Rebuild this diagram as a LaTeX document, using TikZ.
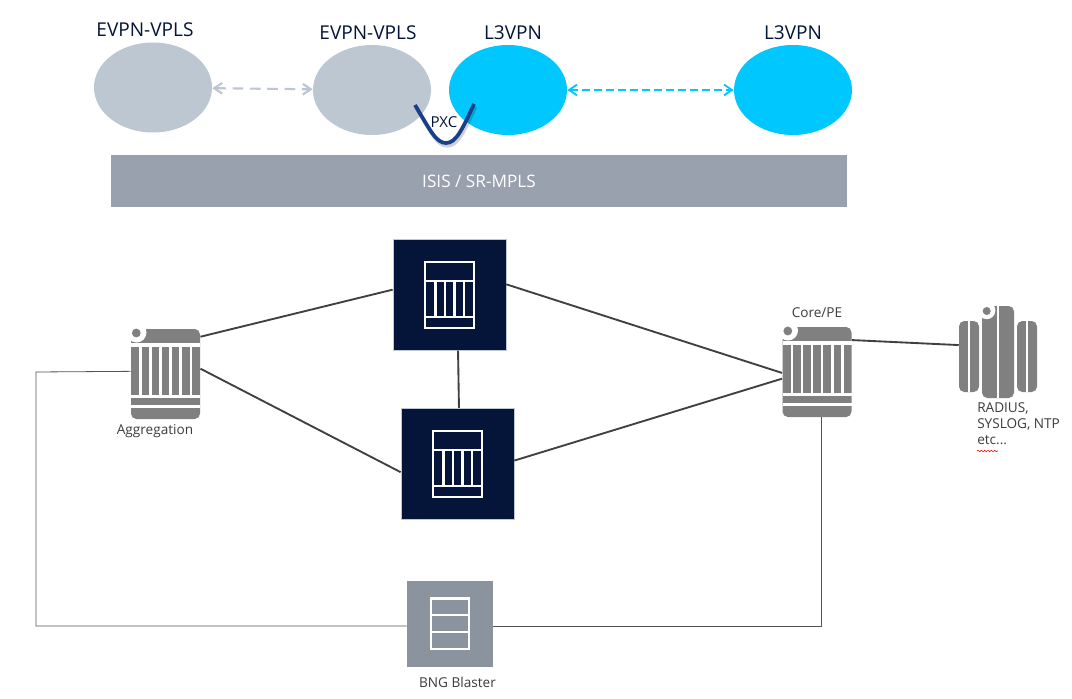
\documentclass[tikz,border=0pt]{standalone}
\usepackage{xcolor}
\usepackage{fontspec}
\setmainfont{Open Sans}
\usetikzlibrary{shapes.geometric, arrows.meta, decorations.pathmorphing}
\definecolor{navybox}{HTML}{041539}
\definecolor{paleblue}{HTML}{BDC7D2}
\definecolor{brightblue}{HTML}{00C8FF}
\definecolor{bargray}{HTML}{98A1AD}
\definecolor{iconGray}{HTML}{808080}
\definecolor{blastergray}{HTML}{8A939E}
\definecolor{linkgray}{HTML}{404040}
\definecolor{pxcblue}{HTML}{173F8A}
\definecolor{labelgray}{HTML}{3C3C3C}

\tikzset{
  x=0.75pt, y=-0.75pt,
  overlay ellipse/.style={ellipse, inner sep=0pt, minimum width=88.5pt, minimum height=67.5pt},
  toplabel/.style={text=navybox, font=\fontsize{14.3}{16}\selectfont},
  smalllabel/.style={text=labelgray, font=\fontsize{10.2}{12}\selectfont},
  navysquare/.style={fill=navybox, draw=paleblue, line width=.3pt, inner sep=0pt, minimum width=85pt, minimum height=83pt},
  hotspot/.style={inner sep=0pt, minimum width=52pt, minimum height=67.5pt},
  link/.style={linkgray, line width=1.4pt},
  thinlink/.style={linkgray!90, line width=.6pt},
  routericon/.pic={
    \fill[iconGray, rounded corners=4pt] (0,0) rectangle (69,90);
    \fill[white] (0,14.3) rectangle (69,17.7);
    \fill[white] (0,66) rectangle (69,69.3);
    \fill[white] (0,76) rectangle (69,78.7);
    \foreach \gx in {9.4,19.5,29.5,39.6,49.7,59.8}
      \fill[white] (\gx-1.3,17) rectangle (\gx+1.3,66.5);
    \fill[white] (5.5,3.5) circle[radius=7.5pt];
    \fill[iconGray] (5.3,4) circle[radius=3.3pt];
  },
  caseicon/.pic={
    % outline, top panel and bottom panel
    \draw[white, line width=1.9pt] (0,0) rectangle (49,66);
    \draw[white, line width=1.9pt] (0,19) -- (49,19);
    \draw[white, line width=1.9pt] (0,55) -- (49,55);
    \foreach \gx in {10.5,20,29.5,39}
      \draw[white, line width=1.9pt] (\gx,19) -- (\gx,55);
  },
}

\begin{document}
\begin{tikzpicture}
  \useasboundingbox[fill=white] (0,0) rectangle (1072,699);

  % service layer
  \node[overlay ellipse, fill=paleblue] (evpnleft) at (153,87.5) {};
  \node[overlay ellipse, fill=paleblue] (evpnright) at (372,90) {};
  \node[overlay ellipse, fill=brightblue] (l3left) at (508,90) {};
  \node[overlay ellipse, fill=brightblue] (l3right) at (793,90) {};
  \node[toplabel] at (145,30) {EVPN-VPLS};
  \node[toplabel] at (368,33) {EVPN-VPLS};
  \node[toplabel] at (513,33) {L3VPN};
  \node[toplabel] at (793,33) {L3VPN};
  \draw[paleblue, line width=1.6pt, dash pattern=on 8pt off 5pt, {Straight Barb[length=6pt,width=8pt]}-{Straight Barb[length=6pt,width=8pt]}]
    (evpnleft) -- (evpnright);
  \draw[brightblue, line width=1.4pt, dash pattern=on 6pt off 3pt, {Straight Barb[length=6pt,width=8pt]}-{Straight Barb[length=6pt,width=8pt]}]
    (l3left) -- (l3right);

  % PXC between the two services
  \draw[black, opacity=.18, line width=3pt, xshift=1pt, yshift=-2pt]
    (415,105) .. controls (430,130) and (436,143) .. (446,143) .. controls (456,143) and (462,130) .. (474,104);
  \draw[pxcblue, line width=2.8pt]
    (415,105) .. controls (430,130) and (436,143) .. (446,143) .. controls (456,143) and (462,130) .. (474,104);
  \node[text=navybox, font=\fontsize{11.3}{13}\selectfont] (pxc) at (444,122) {PXC};

  \node[fill=bargray, text=white, inner sep=0pt, minimum width=552pt, minimum height=39pt,
        font=\fontsize{12.9}{14}\selectfont] (isis) at (479,181) {ISIS / SR-MPLS};

  % network
  \node[navysquare] (upper) at (449.5,295) {};
  \node[navysquare] (lower) at (457.5,463.5) {};
  \pic at (425,262) {caseicon};
  \pic at (433,431) {caseicon};

  \node[hotspot] (agg) at (165.5,374) {};
  \node[hotspot] (core) at (817,372) {};
  \pic at (131,329) {routericon};
  \pic at (782.5,327) {routericon};
  \node[smalllabel] at (155,431) {Aggregation};
  \node[smalllabel] at (817,313) {Core/PE};

  \node[inner sep=0pt, minimum width=58.5pt, minimum height=69pt] (servers) at (998,352) {};
  \fill[iconGray, rounded corners=4pt] (959,321) rectangle (979,392);
  \fill[iconGray, rounded corners=4pt] (982,306) rectangle (1014,398);
  \fill[iconGray, rounded corners=4pt] (1017,321) rectangle (1037,392);
  \fill[white] (968.3,321) rectangle (969.7,392);
  \fill[white] (997,306) rectangle (999,398);
  \fill[white] (1026.3,321) rectangle (1027.7,392);
  \fill[white] (986.7,310.5) circle[radius=6.5pt];
  \fill[iconGray] (986.7,311) circle[radius=3pt];
  \node[smalllabel, anchor=north west, align=left, inner sep=0pt] at (977,402) {RADIUS,\\SYSLOG, NTP\\etc...};
  \draw[red, line width=.4pt, decorate, decoration={snake, amplitude=.6pt, segment length=2.5pt}] (977,451) -- (998,451);

  \node[fill=blastergray, inner sep=0pt, minimum size=64.5pt] (blaster) at (450,624) {};
  \draw[white, line width=1.8pt] (431,598.5) rectangle (469,649);
  \draw[white, line width=1.8pt] (431,615) -- (469,615) (431,632) -- (469,632);
  \node[smalllabel] at (457.5,682) {BNG Blaster};

  % links
  \draw[link] ([yshift=-6pt]agg.north east) -- ([yshift=4pt]upper.west);
  \draw[link] ([yshift=4pt]agg.east) -- ([yshift=-6.5pt]lower.west);
  \draw[link] ([yshift=8pt]upper.east) -- ([yshift=-0.7pt]core.west);
  \draw[link] ([yshift=2.2pt]lower.east) -- ([yshift=-5pt]core.west);
  \draw[link] ([xshift=6.4pt]upper.south) -- ([xshift=1.1pt]lower.north);
  \draw[link] ([yshift=-10pt]core.north east) -- ([yshift=5.2pt]servers.west);
  \draw[thinlink] ([yshift=2pt]agg.west) -- (36,372) -- (36,626) -- ([yshift=-1.5pt]blaster.west);
  \draw[thinlink] ([yshift=-1.5pt]blaster.east) -- (821,626) -- (821,417);
\end{tikzpicture}
\end{document}
